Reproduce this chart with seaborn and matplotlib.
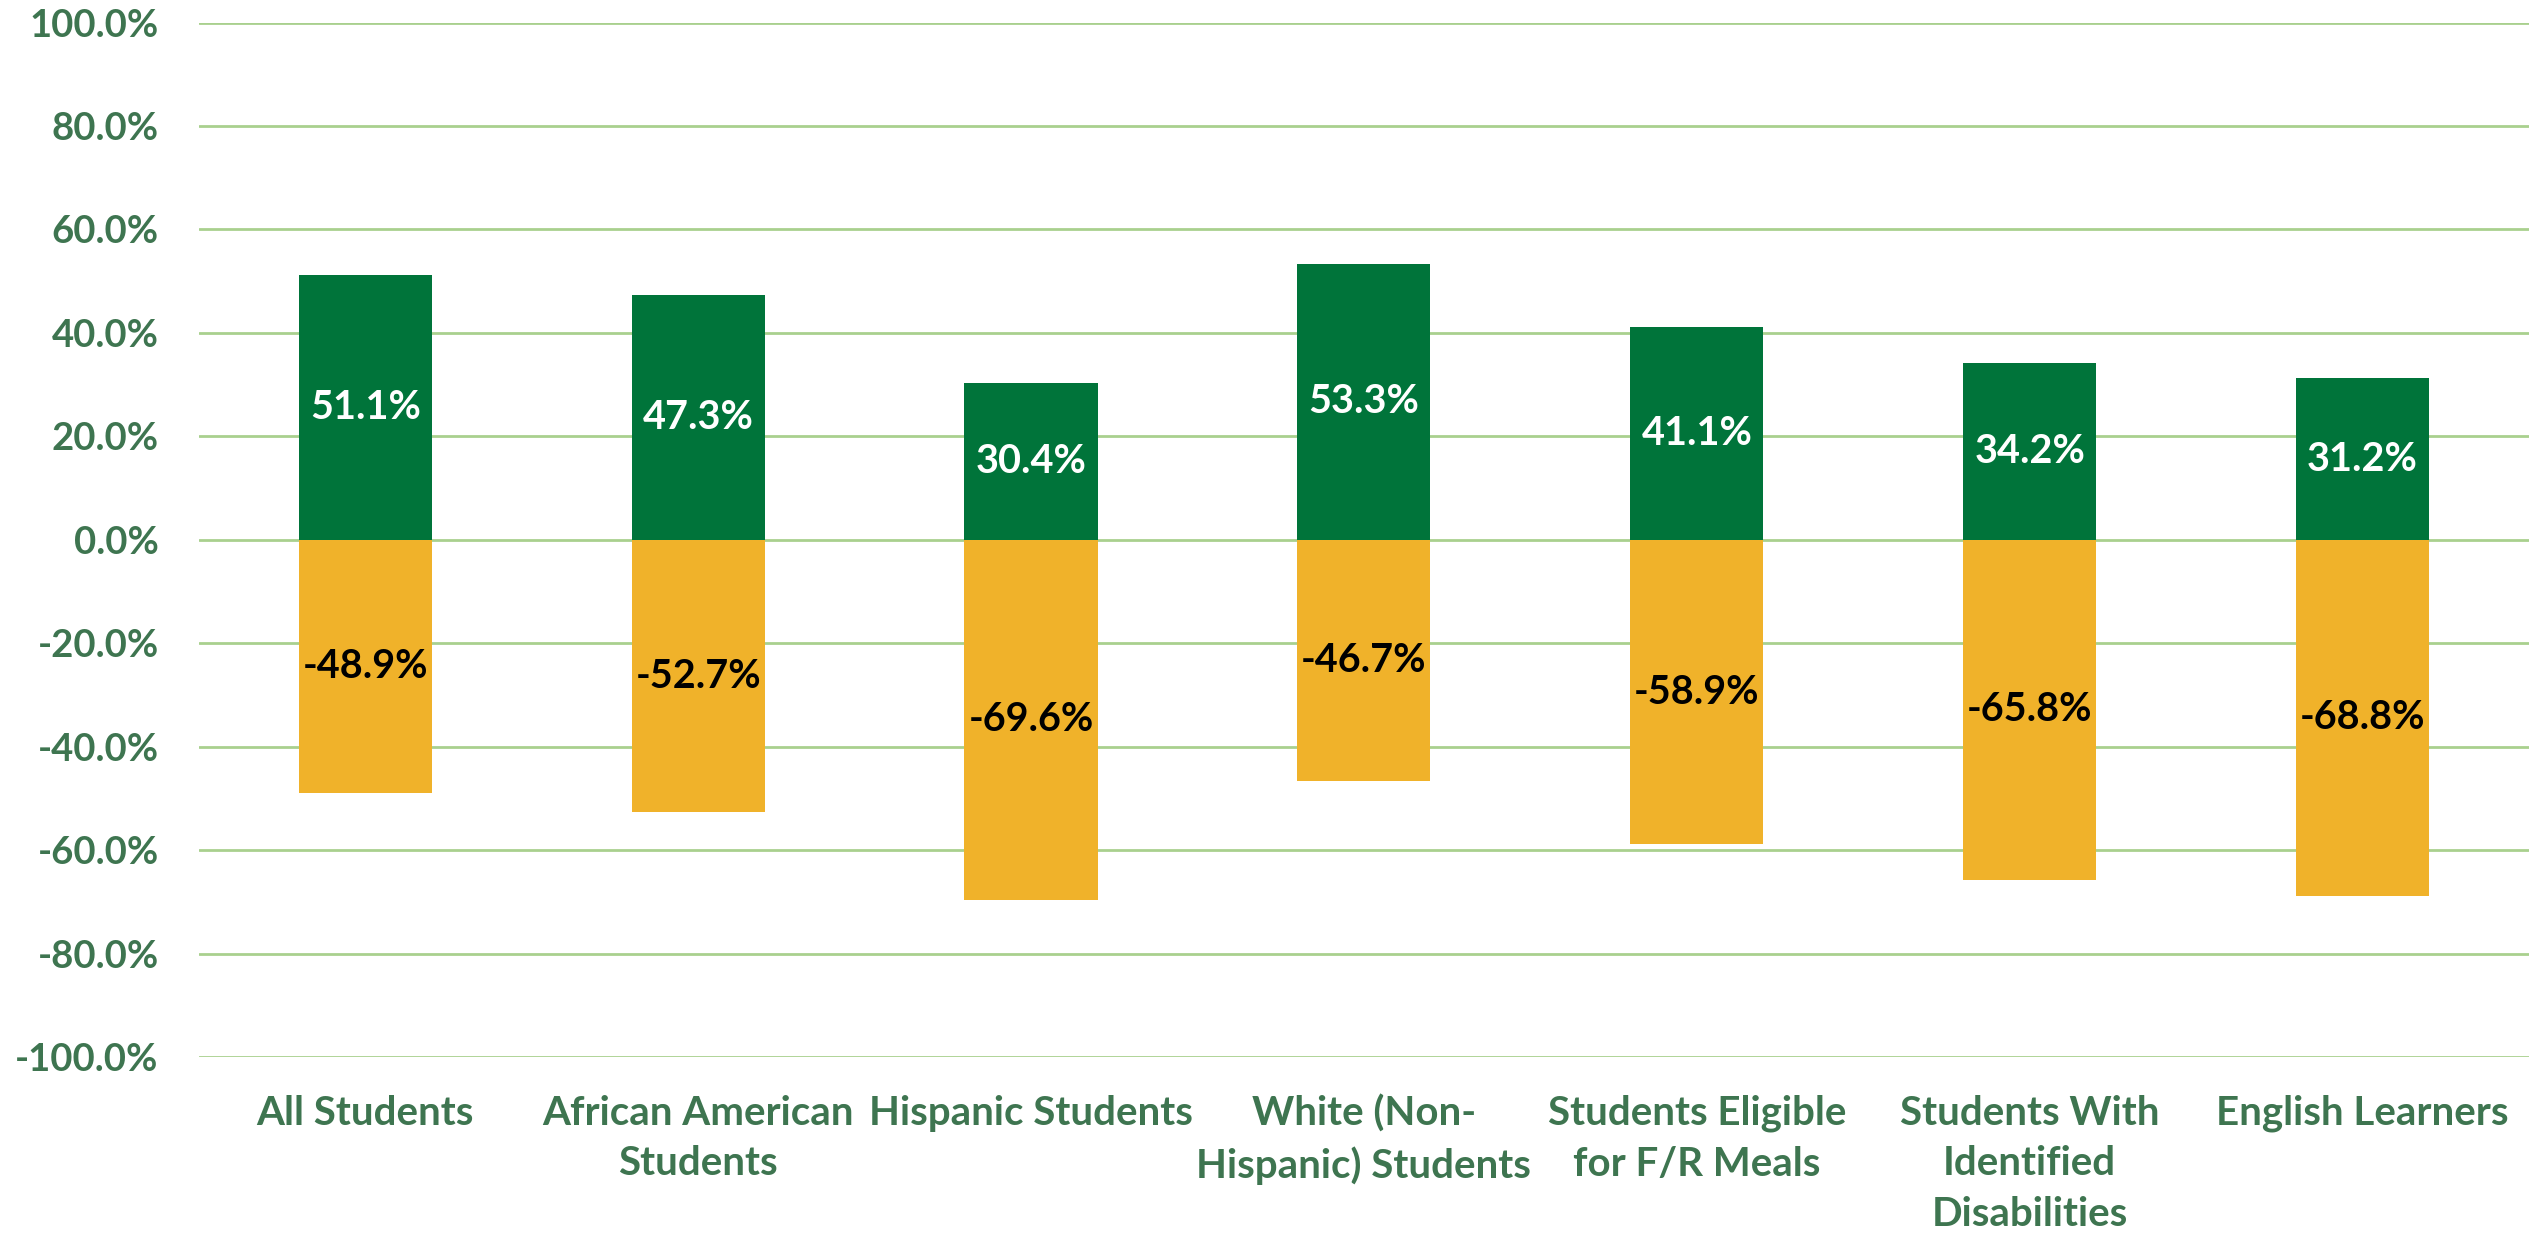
import matplotlib
matplotlib.use('Agg')

import matplotlib.pyplot as plt
import seaborn as sns
import pandas as pd

# chart data
groups = ['All Students', 'African American\nStudents', 'Hispanic Students',
          'White (Non-\nHispanic) Students', 'Students Eligible\nfor F/R Meals',
          'Students With\nIdentified\nDisabilities', 'English Learners']
positive = [51.1, 47.3, 30.4, 53.3, 41.1, 34.2, 31.2]
negative = [-48.9, -52.7, -69.6, -46.7, -58.9, -65.8, -68.8]
y_ticks = [-100, -80, -60, -40, -20, 0, 20, 40, 60, 80, 100]

df = pd.DataFrame({'group': groups, 'pos': positive, 'neg': negative})

sns.set_style('white')
plt.rcParams['font.family'] = ['Lato', 'DejaVu Sans']
plt.rcParams['font.weight'] = 'bold'

label_green = '#3E7550'
bar_green = '#00743A'
bar_gold = '#F0B22A'
grid_green = '#A9D08E'

fig = plt.figure(figsize=(25.34, 12.33), dpi=100)
ax = fig.add_axes([0.0785, 0.1427, 0.9195, 0.839])

sns.barplot(data=df, x='group', y='pos', color=bar_green, width=0.4,
            linewidth=0, saturation=1, ax=ax)
sns.barplot(data=df, x='group', y='neg', color=bar_gold, width=0.4,
            linewidth=0, saturation=1, ax=ax)

# value labels in the middle of each bar
ax.bar_label(ax.containers[0], labels=[f'{v:.1f}%' for v in positive],
             label_type='center', color='white', fontsize=28.5, fontweight='bold')
ax.bar_label(ax.containers[1], labels=[f'{v:.1f}%' for v in negative],
             label_type='center', color='black', fontsize=28.5, fontweight='bold')

ax.set_ylim(-100, 100)
ax.set_xlim(-0.5, len(groups) - 0.5)
ax.set_yticks(y_ticks)
ax.set_yticklabels([f'{v:.1f}%' for v in y_ticks])
ax.yaxis.grid(True, color=grid_green, linewidth=2)
ax.set_axisbelow(True)
for s in ax.spines.values():
    s.set_visible(False)

ax.tick_params(axis='y', length=0, pad=29, labelsize=27.5, labelcolor=label_green)
ax.tick_params(axis='x', length=0, pad=27, labelsize=29, labelcolor=label_green)
for t in ax.get_xticklabels() + ax.get_yticklabels():
    t.set_fontweight('bold')
for t in ax.get_xticklabels():
    t.set_linespacing(1.45)
    t.set_verticalalignment('top')

ax.set_xlabel('')
ax.set_ylabel('')

fig.savefig('out.png', dpi=100)
